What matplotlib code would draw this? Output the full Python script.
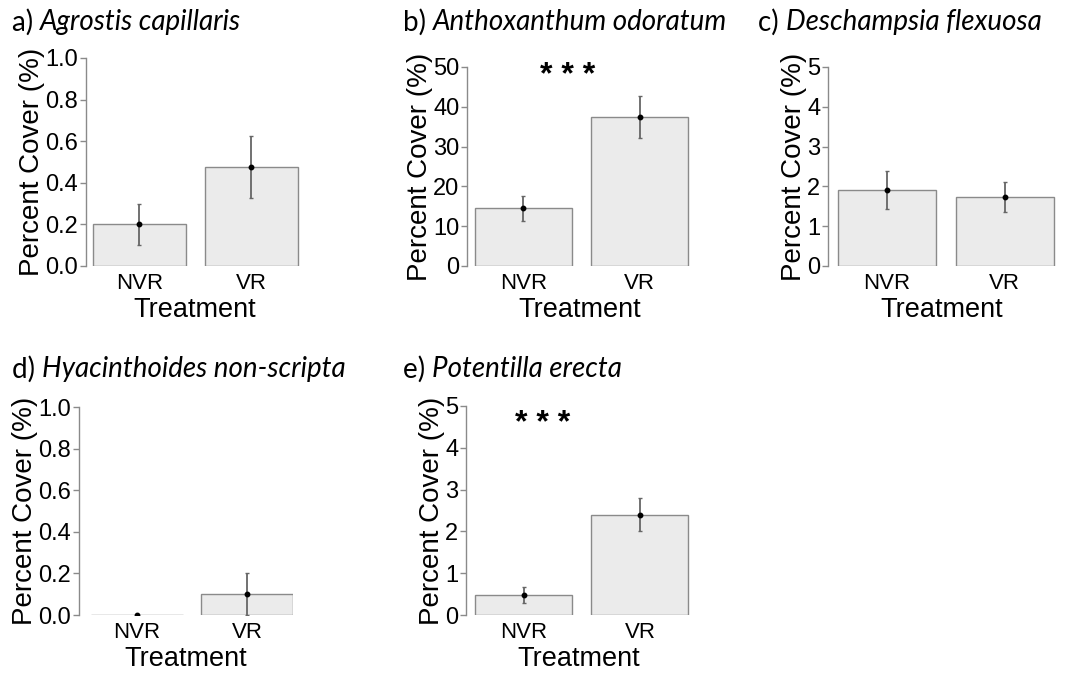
import matplotlib
matplotlib.use("Agg")
import matplotlib.pyplot as plt

treatments = ["NVR", "VR"]
titles_prefix = ["a)", "b)", "c)", "d)", "e)"]
species = ["Agrostis capillaris", "Anthoxanthum odoratum", "Deschampsia flexuosa",
           "Hyacinthoides non-scripta", "Potentilla erecta"]
means_a = [0.20, 0.475]
err_a = [0.10, 0.15]
means_b = [14.5, 37.5]
err_b = [3.2, 5.3]
means_c = [1.90, 1.73]
err_c = [0.48, 0.38]
means_d = [0.0, 0.10]
err_d = [0.0, 0.10]
means_e = [0.48, 2.40]
err_e = [0.20, 0.40]
ymax = [1.0, 50, 5, 1.0, 5]
yticks = [[0.0, 0.2, 0.4, 0.6, 0.8, 1.0], [0, 10, 20, 30, 40, 50], [0, 1, 2, 3, 4, 5],
          [0.0, 0.2, 0.4, 0.6, 0.8, 1.0], [0, 1, 2, 3, 4, 5]]
ytick_fmt = ["{:.1f}", "{:d}", "{:d}", "{:.1f}", "{:d}"]
signif = ["", "***", "", "", "***"]

W, H = 1071, 675
fig = plt.figure(figsize=(W / 100, H / 100), dpi=100)

# pixel boxes: left axis x, px per unit, y of zero, y of ymax
boxes = [
    (86, 93, 266, 58),
    (467, 97, 266, 67),
    (828, 98, 266, 67),
    (79, 92, 615, 407),
    (466, 97, 615, 406),
]
title_pos = [(12, 22), (403, 22), (758, 22), (12, 369), (403, 369)]
star_pos = [None, (568, 76), None, None, (543, 424)]

data = [(means_a, err_a), (means_b, err_b), (means_c, err_c), (means_d, err_d), (means_e, err_e)]
centers = [0.7, 1.9]
xl = {0: 0.125, 1: 0.118, 2: 0.098, 3: 0.07, 4: 0.107}
grey = "#8a8a8a"
sans = ["Liberation Sans", "DejaVu Sans"]

for i, ((m, e), (lx, unit, y0, y1)) in enumerate(zip(data, boxes)):
    xlo = xl[i]
    xhi = xlo + 2.33
    width_px = (xhi - xlo) * unit
    ax = fig.add_axes([lx / W, 1 - y0 / H, width_px / W, (y0 - y1) / H])
    ax.bar(centers, m, width=1.0, color="#ebebeb", edgecolor=grey, linewidth=1.0, zorder=2)
    ax.errorbar(centers, m, yerr=e, fmt="o", color="black", ms=3.2, ecolor="#666666",
                elinewidth=1.3, capsize=1.5, capthick=1.0, zorder=3)
    ax.set_xlim(xlo, xhi)
    ax.set_ylim(0, ymax[i])
    ax.set_yticks(yticks[i])
    ax.set_yticklabels([ytick_fmt[i].format(v) for v in yticks[i]], fontfamily=sans, fontsize=17)
    ax.set_xticks(centers)
    ax.set_xticklabels(treatments, fontfamily=sans, fontsize=16)
    ax.tick_params(axis="x", length=0, pad=5)
    ax.tick_params(axis="y", length=4, width=1, color=grey, pad=1.5)
    for s in ["top", "right", "bottom"]:
        ax.spines[s].set_visible(False)
    ax.spines["left"].set_color(grey)
    ax.spines["left"].set_linewidth(1.0)
    ax.set_ylabel("Percent Cover (%)", fontfamily=sans, fontsize=20, labelpad=0)
    ax.set_xlabel("Treatment", fontfamily=sans, fontsize=19.5, labelpad=2)
    ax.patch.set_alpha(0)
    tx, ty = title_pos[i]
    t = fig.text(tx / W, 1 - ty / H, titles_prefix[i] + " ", fontfamily="Lato", fontsize=20,
                 va="center", ha="left")
    fig.canvas.draw()
    bb = t.get_window_extent()
    fig.text(bb.x1 / W, 1 - ty / H, species[i], fontfamily="Lato", fontstyle="italic",
             fontsize=20, va="center", ha="left")
    if signif[i]:
        sx, sy = star_pos[i]
        fig.text(sx / W, 1 - sy / H, "* * *", fontfamily=sans, fontsize=23, fontweight="bold",
                 ha="center", va="center")

fig.savefig("out.png", dpi=100)
